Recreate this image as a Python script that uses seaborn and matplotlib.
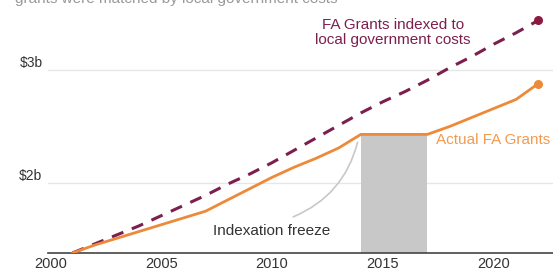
import matplotlib
matplotlib.use("Agg")
import matplotlib.pyplot as plt
import seaborn as sns
import pandas as pd

# Financial Assistance Grants, $ billions
years = list(range(2001, 2023))
actual = [1.38, 1.45, 1.51, 1.57, 1.63, 1.69, 1.75, 1.85, 1.95, 2.05, 2.14, 2.22, 2.31, 2.43,
          2.43, 2.43, 2.43, 2.50, 2.58, 2.66, 2.74, 2.88]
indexed = [1.38, 1.46, 1.54, 1.62, 1.71, 1.80, 1.89, 1.99, 2.08, 2.18, 2.29, 2.40, 2.51, 2.62,
           2.72, 2.81, 2.91, 3.02, 3.12, 3.23, 3.33, 3.44]
freeze_years = [2014, 2015, 2016, 2017]
y_ticks = [2, 3]
y_labels = ["$2b", "$3b"]
x_ticks = [2000, 2005, 2010, 2015, 2020]

df = pd.DataFrame({"Year": years, "Actual": actual, "Indexed": indexed})

ORANGE = "#ec8a3a"
MAROON = "#7d1f4e"

sns.set_theme(style="white")
plt.rcParams["font.family"] = ["Liberation Sans", "DejaVu Sans"]

fig = plt.figure(figsize=(5.53, 2.71), dpi=100)
ax = fig.add_axes([48 / 553, 18 / 271, 505 / 553, 253 / 271])

# indexation freeze shading
frz = df[df["Year"].isin(freeze_years)]
ax.fill_between(frz["Year"], 1.38, frz["Actual"], color="#c8c8c8", lw=0, zorder=1)

sns.lineplot(data=df, x="Year", y="Indexed", ax=ax, color=MAROON, lw=2.2,
             linestyle=(0, (4, 3)), zorder=3)
sns.lineplot(data=df, x="Year", y="Actual", ax=ax, color=ORANGE, lw=2, zorder=4)
ax.scatter([years[-1]], [indexed[-1]], s=30, color="#8c1a3e", zorder=5)
ax.scatter([years[-1]], [actual[-1]], s=30, color=ORANGE, zorder=5)

ax.set_xlim(1999.9, 2022.66)
ax.set_ylim(1.38, 3.62)
ax.set_xticks(x_ticks)
ax.set_yticks(y_ticks)
ax.set_yticklabels(y_labels)
ax.set_xlabel("")
ax.set_ylabel("")
ax.tick_params(axis="x", length=0, labelsize=10.5, colors="#333333", pad=3)
ax.tick_params(axis="y", length=0, labelsize=10, colors="#333333", pad=4)
for lab in ax.get_yticklabels():
    lab.set_verticalalignment("bottom")
ax.grid(axis="y", color="#e6e6e6", lw=1)
for s in ["top", "right", "left"]:
    ax.spines[s].set_visible(False)
ax.spines["bottom"].set_color("#444444")
ax.spines["bottom"].set_linewidth(1.2)

ax.text(2015.45, 3.33, "FA Grants indexed to\nlocal government costs", color=MAROON,
        fontsize=11, ha="center", va="center", linespacing=1.05, zorder=6,
        bbox=dict(fc="white", ec="none", pad=0.5))
ax.text(2017.4, 2.38, "Actual FA Grants", color="#f29a4f", fontsize=11,
        ha="left", va="center")
ax.text(2010.0, 1.575, "Indexation freeze", fontsize=11, color="#333333",
        ha="center", va="center")
ax.annotate("", xy=(2013.85, 2.36), xytext=(2010.95, 1.70),
            arrowprops=dict(arrowstyle="-", color="#c8c8c8", lw=1.2,
                            connectionstyle="arc3,rad=0.25", shrinkA=0, shrinkB=0))

# subtitle, cut off at the top edge as in the source
fig.text(15 / 553, 1 - 3 / 271, "grants were matched by local government costs",
         color="#999999", fontsize=11, ha="left", va="baseline")

fig.savefig("out.png", dpi=100)
